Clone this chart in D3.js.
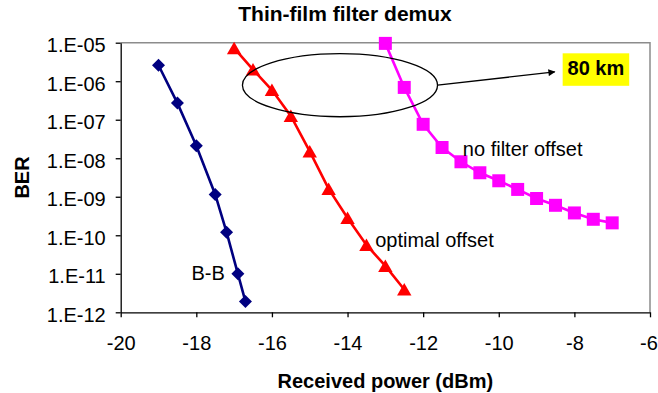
<!DOCTYPE html>
<html>
<head>
<meta charset="utf-8">
<script src="https://cdn.jsdelivr.net/npm/d3@7"></script>
<style>
  html, body { margin: 0; padding: 0; background: #fff; }
  svg { display: block; font-family: "Liberation Sans", Arial, sans-serif; }
</style>
</head>
<body>
<svg id="chart" width="658" height="393"></svg>
<script>
// ---- data ----
const xTicks = [-20, -18, -16, -14, -12, -10, -8, -6];
const yTicks = [1e-12, 1e-11, 1e-10, 1e-9, 1e-8, 1e-7, 1e-6, 1e-5];

const bbPower = [-19, -18.5, -18, -17.5, -17.2, -16.9, -16.7];
const bbBER   = [2.6e-6, 2.7e-7, 2.1e-8, 1.15e-9, 1.2e-10, 1.0e-11, 1.9e-12];

const optPower = [-17, -16.5, -16, -15.5, -15, -14.5, -14, -13.5, -13, -12.5];
const optBER   = [7.2e-6, 2.0e-6, 5.9e-7, 1.25e-7, 1.5e-8, 1.6e-9, 2.8e-10, 5.6e-11, 1.6e-11, 3.9e-12];

const nfPower = [-13, -12.5, -12, -11.5, -11, -10.5, -10, -9.5, -9, -8.5, -8, -7.5, -7];
const nfBER   = [9.6e-6, 6.9e-7, 7.6e-8, 1.9e-8, 8.1e-9, 4.2e-9, 2.6e-9, 1.55e-9, 9.0e-10, 6.0e-10, 3.8e-10, 2.6e-10, 2.1e-10];

const seriesNames = ["B-B", "optimal offset", "no filter offset"];
const titleText = "Thin-film filter demux";
const xTitle = "Received power (dBm)";
const yTitle = "BER";
const calloutText = "80 km";

// ---- layout ----
const svg = d3.select("#chart");
const L = 120.7, R = 650, T = 42.7, B = 312.3;

const x = d3.scaleLinear().domain([-20, -6]).range([L, R]);
const y = d3.scaleLog().domain([1e-12, 1e-5]).range([B, T]);

// plot border (top/right gray)
svg.append("path")
  .attr("d", `M${L},${T}H${R}V${B}`)
  .attr("fill", "none").attr("stroke", "#8c8c8c").attr("stroke-width", 1.5);

// axes
const fmtY = d => {
  const e = Math.round(-Math.log10(d));
  return "1.E-" + String(e).padStart(2, "0");
};
const gx = svg.append("g").attr("transform", `translate(0,${B})`)
  .call(d3.axisBottom(x).tickValues(xTicks).tickFormat(d => String(d)).tickSize(5).tickSizeOuter(0));
const gy = svg.append("g").attr("transform", `translate(${L},0)`)
  .call(d3.axisLeft(y).tickValues(yTicks).tickFormat(fmtY).tickSize(5).tickSizeOuter(0));

[gx, gy].forEach(g => {
  g.select(".domain").attr("stroke", "#000").attr("stroke-width", 1.3);
  g.selectAll(".tick line").attr("stroke", "#000").attr("stroke-width", 1.3);
  g.selectAll(".tick text").attr("fill", "#000")
    .style("font-family", '"Liberation Sans", Arial, sans-serif').style("font-size", "20px");
});
gx.selectAll(".tick text").attr("y", 38).attr("dy", 0)
  .attr("dx", d => d === -6 ? -1.5 : 0);
gy.selectAll(".tick text").attr("x", -15).attr("dy", "0.45em");

// titles
svg.append("text").attr("x", 345).attr("y", 21).attr("text-anchor", "middle")
  .style("font-size", "21px").style("font-weight", "bold").text(titleText);
svg.append("text").attr("x", (L + R) / 2).attr("y", 387.5).attr("text-anchor", "middle")
  .style("font-size", "20px").style("font-weight", "bold").text(xTitle);
svg.append("text").attr("transform", `translate(28.5,${(T + B) / 2}) rotate(-90)`)
  .attr("text-anchor", "middle")
  .style("font-size", "20px").style("font-weight", "bold").text(yTitle);

// series
const line = d3.line().x(d => x(d[0])).y(d => y(d[1]));
const zip = (a, b) => a.map((v, i) => [v, b[i]]);

const diamond = "M0,-6.5L6.5,0L0,6.5L-6.5,0Z";
const triangle = "M0,-6.5L7.2,6L-7.2,6Z";
const square = "M-6.5,-6.5H6.5V6.5H-6.5Z";

const series = [
  { data: zip(bbPower, bbBER), color: "#000080", marker: diamond },
  { data: zip(optPower, optBER), color: "#ff0000", marker: triangle },
  { data: zip(nfPower, nfBER), color: "#ff00ff", marker: square }
];

series.forEach(s => {
  svg.append("path").datum(s.data).attr("d", line)
    .attr("fill", "none").attr("stroke", s.color).attr("stroke-width", 2.6);
  svg.append("g").selectAll("path").data(s.data).join("path")
    .attr("d", s.marker)
    .attr("transform", d => `translate(${x(d[0])},${y(d[1])})`)
    .attr("fill", s.color);
});

// series labels
const labelStyle = sel => sel.style("font-size", "20px").attr("fill", "#000");
svg.append("text").attr("x", x(-18.13)).attr("y", y(7.0e-12)).call(labelStyle).text(seriesNames[0]);
svg.append("text").attr("x", x(-13.27)).attr("y", y(4.95e-11)).call(labelStyle).text(seriesNames[1]);
svg.append("text").attr("x", x(-10.95)).attr("y", y(1.15e-8)).call(labelStyle).text(seriesNames[2]);

// annotation: ellipse + arrow + callout
const ecx = x(-14.2), ecy = y(7.9e-7);
const erx = x(-14.2 + 2.58) - ecx, ery = ecy - y(7.9e-7 * Math.pow(10, 0.82));
svg.append("ellipse").attr("cx", ecx).attr("cy", ecy).attr("rx", erx).attr("ry", ery)
  .attr("fill", "none").attr("stroke", "#000").attr("stroke-width", 1.3);

svg.append("defs").append("marker").attr("id", "arr")
  .attr("viewBox", "0 0 10 10").attr("refX", 9).attr("refY", 5)
  .attr("markerWidth", 8).attr("markerHeight", 7).attr("markerUnits", "userSpaceOnUse")
  .attr("orient", "auto")
  .append("path").attr("d", "M0,0L10,5L0,10Z").attr("fill", "#000");

svg.append("line")
  .attr("x1", ecx + erx).attr("y1", ecy)
  .attr("x2", x(-8.52)).attr("y2", y(1.74e-6))
  .attr("stroke", "#000").attr("stroke-width", 1.3).attr("marker-end", "url(#arr)");

const bx0 = x(-8.31), bx1 = x(-6.55), by0 = y(5.3e-6), by1 = y(7.6e-7);
svg.append("rect").attr("x", bx0).attr("y", by0).attr("width", bx1 - bx0).attr("height", by1 - by0)
  .attr("fill", "#ffff00");
svg.append("text").attr("x", (bx0 + bx1) / 2).attr("y", by1 - 10.5).attr("text-anchor", "middle")
  .style("font-size", "20px").style("font-weight", "bold").text(calloutText);
</script>
</body>
</html>
